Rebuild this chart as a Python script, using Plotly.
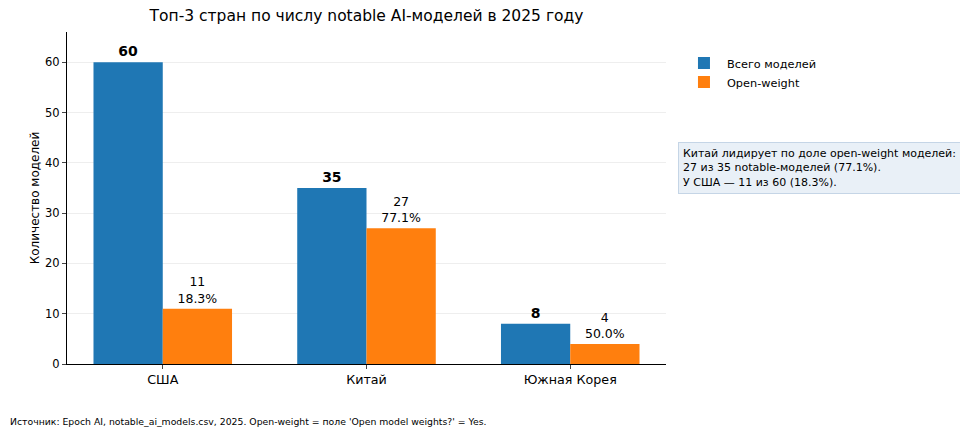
import plotly.graph_objects as go

countries = ["США", "Китай", "Южная Корея"]
total_models = [60, 35, 8]
open_weight = [11, 27, 4]
open_share = [18.3, 77.1, 50.0]

fig = go.Figure()

fig.add_trace(go.Bar(x=countries, y=total_models, name="Всего моделей",
                     marker=dict(color="#1f77b4", line=dict(width=0)),
                     text=["<b>%d</b>" % v for v in total_models],
                     textposition="outside", textfont=dict(size=14, color="black"),
                     cliponaxis=False))

fig.add_trace(go.Bar(x=countries, y=open_weight, name="Open-weight",
                     marker=dict(color="#ff7f0e", line=dict(width=0)),
                     text=["%d<br>%.1f%%" % (v, s) for v, s in zip(open_weight, open_share)],
                     textposition="outside", textfont=dict(size=12.5, color="black"),
                     cliponaxis=False))

fig.update_layout(
    width=960, height=434,
    font=dict(family="DejaVu Sans", size=12, color="black"),
    plot_bgcolor="white", paper_bgcolor="white",
    barmode="group", bargap=0.32, bargroupgap=0,
    margin=dict(l=67, r=294, t=32, b=70),
    title=dict(text="Топ-3 стран по числу notable AI-моделей в 2025 году",
               x=(67 + 666) / 2 / 960, xanchor="center", y=0.965, yanchor="middle",
               font=dict(size=15.5)),
    legend=dict(x=1.025, y=0.95, xanchor="left", yanchor="top", itemwidth=36,
                font=dict(size=11.3), bgcolor="rgba(0,0,0,0)", tracegroupgap=2),
    showlegend=True,
)

fig.update_xaxes(range=[-0.47, 2.47], showline=True, linecolor="black", linewidth=1,
                 ticks="outside", ticklen=4, tickfont=dict(size=12.7), showgrid=False)
fig.update_yaxes(range=[0, 66], dtick=10, showline=True, linecolor="black", linewidth=1,
                 ticks="outside", ticklen=4, tickfont=dict(size=11.5),
                 showgrid=True, gridcolor="#eeeeee", zeroline=False,
                 title=dict(text="Количество моделей", font=dict(size=12), standoff=2))

fig.add_annotation(xref="paper", yref="paper", x=1.02, y=0.59, xanchor="left", yanchor="middle",
                   text="Китай лидирует по доле open-weight моделей:<br>27 из 35 notable-моделей (77.1%).<br>У США — 11 из 60 (18.3%).",
                   align="left", showarrow=False, font=dict(size=11),
                   bgcolor="#e9f0f7", bordercolor="#c5d5e6", borderwidth=1, borderpad=4)

fig.add_annotation(xref="paper", yref="paper", x=-59 / 599, y=-57 / 332, xanchor="left", yanchor="middle",
                   text="Источник: Epoch AI, notable_ai_models.csv, 2025. Open-weight = поле 'Open model weights?' = Yes.",
                   showarrow=False, font=dict(size=9.3))

fig.write_html("out.html", post_script="document.body.style.margin='0';",
               config={"displayModeBar": False})
